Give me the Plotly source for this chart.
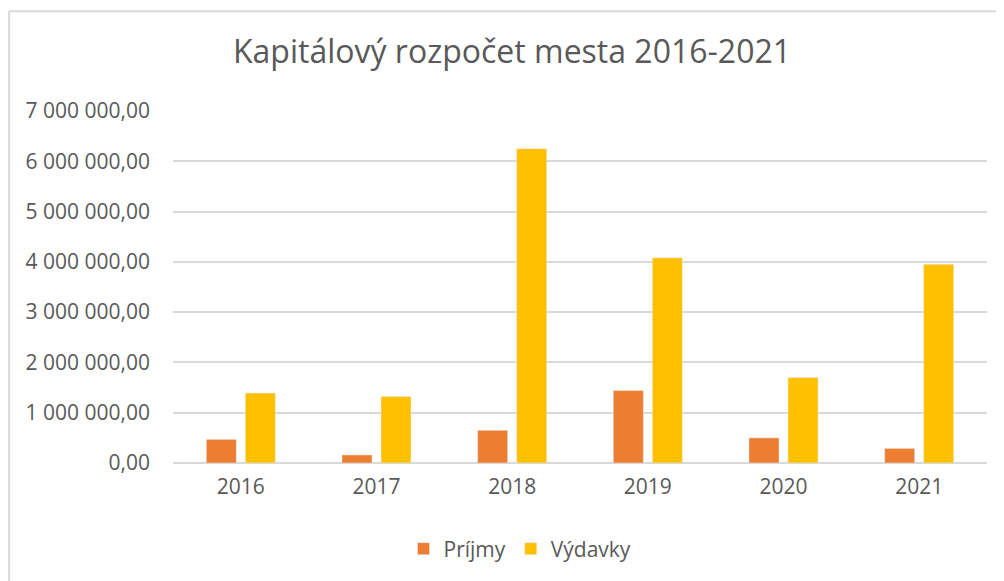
import plotly.graph_objects as go

years = ["2016", "2017", "2018", "2019", "2020", "2021"]
prijmy = [470000, 160000, 650000, 1440000, 500000, 290000]
vydavky = [1390000, 1320000, 6250000, 4080000, 1700000, 3950000]
y_tick_values = [0, 1000000, 2000000, 3000000, 4000000, 5000000, 6000000, 7000000]
y_tick_labels = ["0,00", "1 000 000,00", "2 000 000,00", "3 000 000,00",
                 "4 000 000,00", "5 000 000,00", "6 000 000,00", "7 000 000,00"]

# page body has an 8px margin: figure pixel = screen pixel - 8
OFF = 8
W, H = 1004, 581
L = 173 - OFF
T = 111 - OFF
B = H - (463.5 - OFF)
R = W - (987.5 - OFF)
FONT = "Open Sans"
TXT = "#595959"
GRID = "#D9D9D9"

fig = go.Figure()
fig.add_trace(go.Bar(name="Príjmy", x=years, y=prijmy, marker_color="#ED7D31"))
fig.add_trace(go.Bar(name="Výdavky", x=years, y=vydavky, marker_color="#FFC000"))

pw = W - L - R
ph = H - T - B
def px_x(p):
    return (p - OFF - L) / pw
def px_y(p):
    return (H - B - (p - OFF)) / ph

# chart-area border (left and top edges visible in the frame)
fig.add_shape(type="line", xref="paper", yref="paper",
              x0=px_x(9), x1=px_x(9), y0=px_y(H + 2 * OFF), y1=px_y(11),
              line=dict(color=GRID, width=2), layer="below")
fig.add_shape(type="line", xref="paper", yref="paper",
              x0=px_x(9), x1=px_x(W + 2 * OFF), y0=px_y(11), y1=px_y(11),
              line=dict(color=GRID, width=2), layer="below")

fig.update_layout(
    width=W, height=H,
    margin=dict(l=L, r=R, t=T, b=B, pad=0),
    paper_bgcolor="white", plot_bgcolor="white",
    font=dict(family=FONT, color=TXT, size=21),
    title=dict(text="Kapitálový rozpočet mesta 2016-2021", x=(512 - OFF) / W, xanchor="center",
               xref="container", yref="container", y=1 - (52 - OFF) / H, yanchor="middle",
               font=dict(family=FONT, size=32, color=TXT)),
    barmode="group", bargap=0.425, bargroupgap=0.23,
    showlegend=True,
    legend=dict(orientation="h", xref="container", yref="container",
                x=(520 - OFF) / W, xanchor="center", y=1 - (549 - OFF) / H, yanchor="middle",
                font=dict(family=FONT, size=21, color=TXT), itemwidth=30,
                traceorder="normal"),
    xaxis=dict(showgrid=False, showline=False, ticks="", tickfont=dict(size=21, color=TXT),
               ticklabelstandoff=9),
    yaxis=dict(range=[0, 7000000], tickvals=y_tick_values, ticktext=y_tick_labels,
               showgrid=True, gridcolor=GRID, gridwidth=1.5, zeroline=True,
               zerolinecolor=GRID, zerolinewidth=1.5, showline=False, ticks="",
               tickfont=dict(size=21, color=TXT), ticklabelstandoff=22),
)

fig.write_html("out.html")
